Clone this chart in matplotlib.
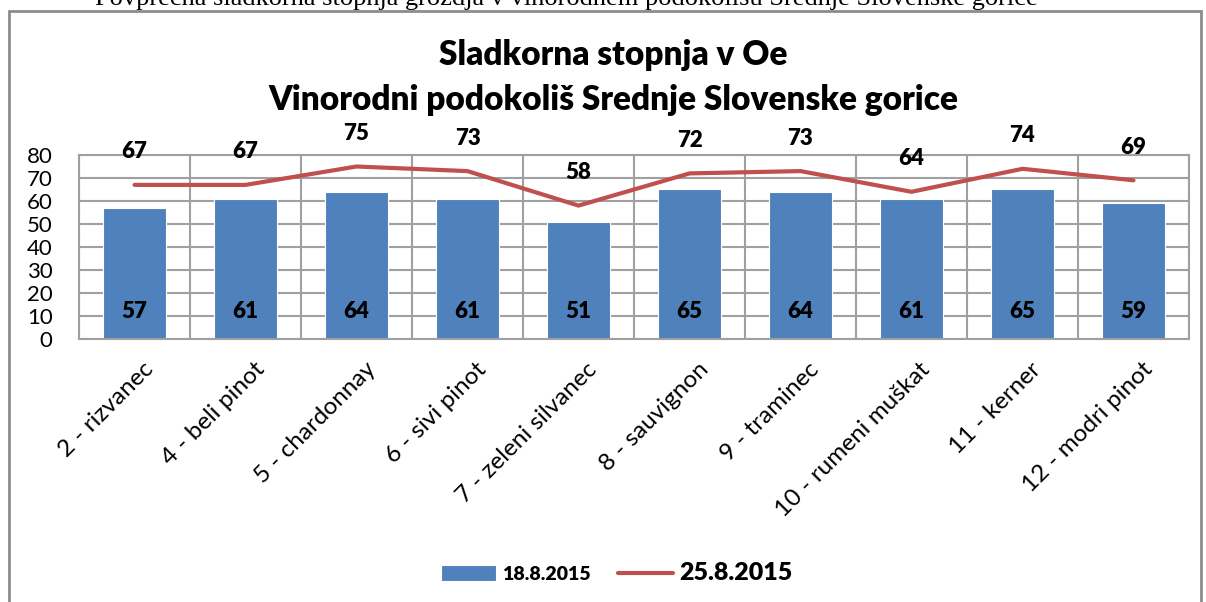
import matplotlib.pyplot as plt
from matplotlib.patches import Rectangle
from matplotlib.transforms import ScaledTranslation
import numpy as np

categories = ["2 - rizvanec", "4 - beli pinot", "5 - chardonnay", "6 - sivi pinot",
              "7 - zeleni silvanec", "8 - sauvignon", "9 - traminec",
              "10 - rumeni muškat", "11 - kerner", "12 - modri pinot"]
values_1808 = [57, 61, 64, 61, 51, 65, 64, 61, 65, 59]
values_2508 = [67, 67, 75, 73, 58, 72, 73, 64, 74, 69]
yticks = [0, 10, 20, 30, 40, 50, 60, 70, 80]

plt.rcParams["font.family"] = ["Lato", "DejaVu Sans"]
fig = plt.figure(figsize=(12.06, 6.02), dpi=100)
W, H = 1206, 602
ax = fig.add_axes([79 / W, 1 - 339 / H, (1189 - 79) / W, (339 - 155) / H])

# outer chart frame
fig.patches.append(Rectangle((9 / W, -0.05), (1201 - 9) / W, 1.05 - 11 / H,
                             transform=fig.transFigure, fill=False,
                             edgecolor="#8c8c8c", linewidth=2))
fig.text(566 / W, 1 - 5 / H,
         "Povprečna sladkorna stopnja grozdja v vinorodnem podokolišu Srednje Slovenske gorice",
         family="Liberation Serif", fontsize=19, ha="center", va="baseline")

x = np.arange(len(categories))
bars = ax.bar(x, values_1808, width=0.57, color="#4F81BD", edgecolor="white",
              linewidth=0.8, zorder=2, label="18.8.2015")
line, = ax.plot(x, values_2508, color="#C0504D", linewidth=3, solid_capstyle="round",
                zorder=3, label="25.8.2015")

for xi, v in zip(x, values_1808):
    ax.text(xi, 12, str(v), ha="center", va="center", fontsize=16, fontweight="heavy", zorder=4)
for xi, v in zip(x, values_2508):
    ax.annotate(str(v), (xi, v), xytext=(0, 33), textcoords="offset pixels",
                ha="center", va="center", fontsize=16, fontweight="heavy", zorder=4)

ax.set_xlim(-0.5, len(categories) - 0.5)
ax.set_ylim(0, 80)
ax.set_yticks(yticks)
ax.set_xticks(x)
ax.set_xticklabels(categories, rotation=45, ha="right", rotation_mode="anchor", fontsize=17.5)
ax.tick_params(axis="y", labelsize=16, length=0, pad=19)
ax.tick_params(axis="x", length=0, pad=14)
shift = ScaledTranslation(8 / 100, 0, fig.dpi_scale_trans)
for lbl in ax.get_xticklabels():
    lbl.set_transform(lbl.get_transform() + shift)

ax.set_xticks(np.arange(-0.5, len(categories)), minor=True)
ax.tick_params(axis="x", which="minor", length=0)
ax.grid(True, axis="y", color="#a0a0a0", linewidth=1.5, zorder=0)
ax.grid(True, axis="x", which="minor", color="#a0a0a0", linewidth=1.5, zorder=0)
for s in ax.spines.values():
    s.set_color("#a0a0a0")
    s.set_linewidth(1.5)

fig.text(613 / W, 1 - 55 / H, "Sladkorna stopnja v Oe", ha="center", va="center",
         fontsize=24, fontweight="heavy")
fig.text(613 / W, 1 - 100 / H, "Vinorodni podokoliš Srednje Slovenske gorice", ha="center",
         va="center", fontsize=24, fontweight="heavy")

leg = fig.legend([bars, line], ["18.8.2015", "25.8.2015"], loc="center",
                 bbox_to_anchor=(617 / W, 1 - 573 / H), ncol=2, frameon=False, fontsize=14,
                 handlelength=2.8, handleheight=0.9, columnspacing=1.4, handletextpad=0.35)
leg.get_texts()[0].set_fontweight("heavy")
leg.get_texts()[1].set_fontsize(18)
leg.get_texts()[1].set_fontweight("heavy")

fig.savefig("out.png", dpi=100)
